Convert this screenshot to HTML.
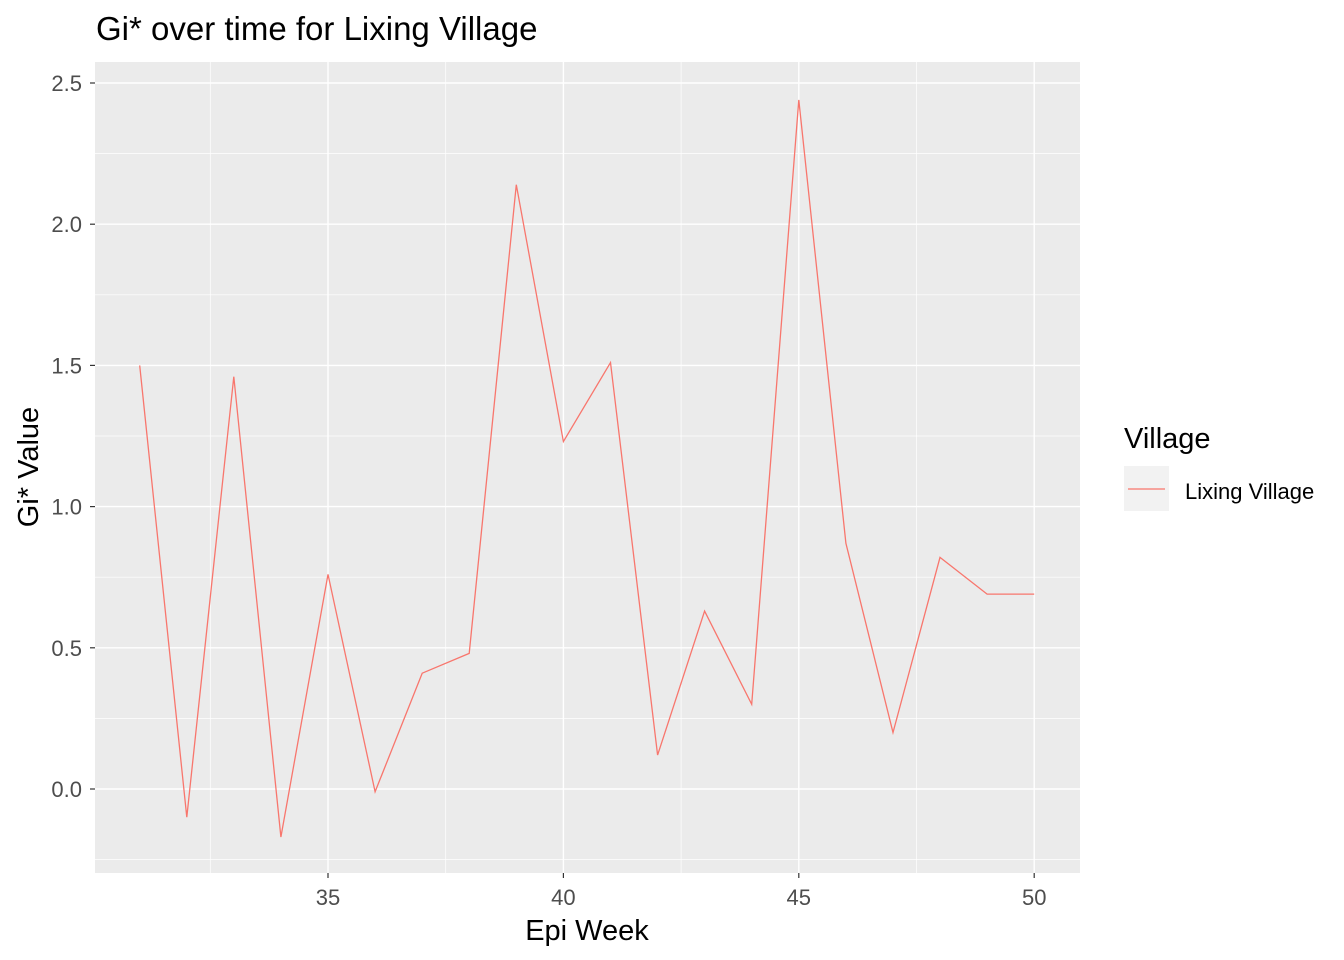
<!DOCTYPE html>
<html><head><meta charset="utf-8"><style>body{margin:0;background:#fff}svg{display:block;font-family:"Liberation Sans",sans-serif}</style></head>
<body>
<svg id="chart" width="1344" height="960" viewBox="0 0 1344 960" xmlns="http://www.w3.org/2000/svg">
<text x="96" y="40" font-size="33" fill="#000">Gi* over time for Lixing Village</text>
<rect x="95" y="62" width="985" height="811" fill="#ebebeb"/>
<g id="grid"></g>
<g id="axes"></g>
<path id="series" fill="none" stroke="#f8766d" stroke-width="1.3"/>
<text x="587" y="940" font-size="29" text-anchor="middle">Epi Week</text>
<text transform="translate(38,467) rotate(-90)" font-size="29" text-anchor="middle">Gi* Value</text>
<g>
<text x="1124" y="448" font-size="29">Village</text>
<rect x="1124" y="466" width="45" height="45" fill="#f2f2f2"/>
<line x1="1128" y1="489" x2="1165" y2="489" stroke="#f8766d" stroke-width="1.3"/>
<text x="1185" y="499" font-size="22" fill="#000">Lixing Village</text>
</g>
</svg>
<script>
const weeks=[31,32,33,34,35,36,37,38,39,40,41,42,43,44,45,46,47,48,49,50];
const giValues=[1.50,-0.10,1.46,-0.17,0.76,-0.01,0.41,0.48,2.14,1.23,1.51,0.12,0.63,0.30,2.44,0.87,0.20,0.82,0.69,0.69];
const xTicks=[35,40,45,50];
const yTicks=[0.0,0.5,1.0,1.5,2.0,2.5];
const NS="http://www.w3.org/2000/svg";
const xs=w=>328+(w-35)*47.08;
const ys=v=>789-v*282.4;
function mk(tag,attrs,parent){const e=document.createElementNS(NS,tag);for(const k in attrs)e.setAttribute(k,attrs[k]);parent.appendChild(e);return e;}
const grid=document.getElementById('grid'),axes=document.getElementById('axes');
for(let i=0;i<yTicks.length;i++){
  const mv=yTicks[i]-0.25;
  const m=mk('line',{x1:95,x2:1080,y1:ys(mv),y2:ys(mv),stroke:'#fff','stroke-width':0.7},grid);
  
  
}
for(let i=0;i<xTicks.length;i++){
  const mv=xTicks[i]-2.5;
  const m=mk('line',{x1:xs(mv),x2:xs(mv),y1:62,y2:873,stroke:'#fff','stroke-width':0.7},grid);
  
  
}
yTicks.forEach(v=>{
  const g=mk('line',{x1:95,x2:1080,y1:ys(v),y2:ys(v),stroke:'#fff','stroke-width':1.4},grid);
  
  
  mk('line',{x1:90,x2:95,y1:ys(v),y2:ys(v),stroke:'#333','stroke-width':1.2},axes);
  const t=mk('text',{x:82,y:ys(v)+8,'font-size':22,fill:'#4d4d4d','text-anchor':'end'},axes);
  t.textContent=v.toFixed(1);
  
  
});
xTicks.forEach(v=>{
  const g=mk('line',{x1:xs(v),x2:xs(v),y1:62,y2:873,stroke:'#fff','stroke-width':1.4},grid);
  
  
  mk('line',{x1:xs(v),x2:xs(v),y1:873,y2:878,stroke:'#333','stroke-width':1.2},axes);
  const t=mk('text',{x:xs(v),y:905,'font-size':22,fill:'#4d4d4d','text-anchor':'middle'},axes);
  t.textContent=v;
  
  
});
document.getElementById('series').setAttribute('d',weeks.map((w,i)=>(i?'L':'M')+xs(w).toFixed(1)+','+ys(giValues[i]).toFixed(1)).join(''));
</script>
</body></html>
